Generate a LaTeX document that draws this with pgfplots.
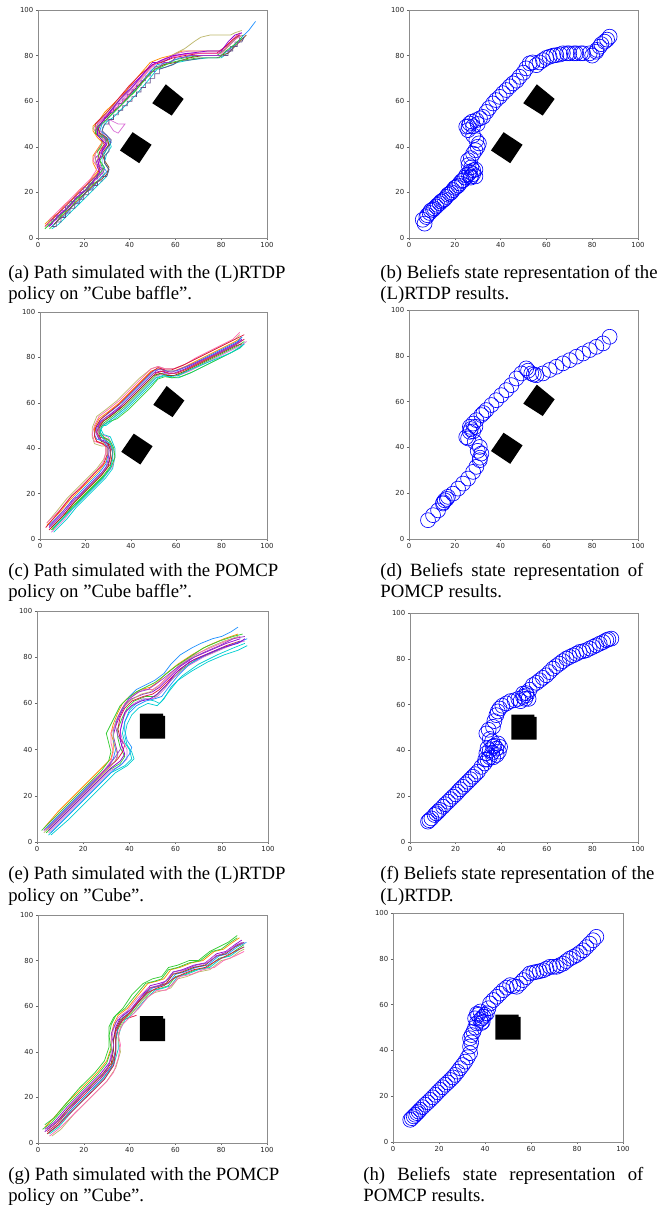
\documentclass[border=0pt]{standalone}
\usepackage{fontspec}
\setmainfont{Liberation Serif}
\newfontfamily\djv{DejaVu Sans}
\usepackage{pgfplots}
\pgfplotsset{compat=1.18}
\definecolor{c1}{RGB}{148,0,211}
\definecolor{c2}{RGB}{50,205,50}
\definecolor{c3}{RGB}{255,140,0}
\definecolor{c4}{RGB}{220,20,60}
\definecolor{c5}{RGB}{30,144,255}
\definecolor{c6}{RGB}{0,206,209}
\definecolor{c7}{RGB}{218,112,214}
\definecolor{c8}{RGB}{189,183,107}
\definecolor{c9}{RGB}{139,69,19}
\definecolor{c10}{RGB}{255,105,180}
\definecolor{c11}{RGB}{150,60,200}
\definecolor{c12}{RGB}{100,80,140}
\definecolor{bcirc}{RGB}{0,0,255}
\pgfplotsset{
  grid100/.style={scale only axis, anchor=south west,
    xmin=0,xmax=100,ymin=0,ymax=100,
    xtick={0,20,...,100}, ytick={0,20,...,100},
    tick pos=left, tick align=outside, major tick length=1.2pt,
    axis line style={black!45, line width=0.35pt},
    tick style={black!60, line width=0.3pt},
    tick label style={font=\djv\fontsize{3.8}{4}\selectfont, text=black!85},
    /pgf/number format/assume math mode=true,
    xticklabel style={inner sep=1.2pt}, yticklabel style={inner sep=1.2pt}},
  pth/.style={line width=0.4pt, no marks},
  obst/.style={fill=black, draw=none, no marks},
  circ/.style={only marks, mark=o, mark size=4.1pt, color=bcirc, mark options={line width=0.35pt}},
}
\newcommand{\baffle}{%
  \addplot[obst] coordinates {(55.8,67.4) (63.6,61) (58.4,53.7) (49.9,59.1)} --cycle;
  \addplot[obst] coordinates {(41.3,46.4) (49.6,40.9) (44.2,32.8) (35.8,38.4)} --cycle;}
\newcommand{\cube}{%
  \addplot[obst] coordinates {(44.5,44.7) (55.5,44.7) (55.5,54.6) (54.6,54.6) (54.6,55.6) (44.5,55.6)} --cycle;}
\newcommand{\capfont}{\fontsize{10.3}{12}\selectfont}
\begin{document}
\begin{tikzpicture}[x=0.55pt,y=0.55pt]
\useasboundingbox (0,0) rectangle (662,1207);

% (a)
\begin{axis}[grid100, at={(20.9pt,532.95pt)}, width=125.95pt, height=125.4pt]
\baffle
\addplot[pth,c1] coordinates {(4,5) (6,6) (7,8) (9,9) (10,11) (12,12) (13,14) (15,15) (16,17) (18,18) (19,20) (21,21) (22,23) (24,24) (25,26) (27,27) (28,29) (26,32) (25,35) (27,37) (29,40) (30,43) (28,45) (25,47) (26,50) (29,53) (31,55) (35,60) (40,66) (45,71) (50,77) (53,77) (56,78) (60,80) (65,81) (72,81) (79,81) (82,83) (85,86) (88,89)};
\addplot[pth,c2] coordinates {(5,4) (8,7) (11,11) (14,13) (17,17) (20,19) (23,23) (26,25) (29,28) (28,31) (27,34) (29,37) (31,41) (29,44) (26,46) (27,49) (30,52) (32,54) (37,59) (42,64) (47,70) (51,75) (55,76) (59,78) (64,79) (70,80) (78,80) (81,82) (84,85) (87,88) (90,89)};
\addplot[pth,c3] coordinates {(3,6) (6,9) (9,11) (12,15) (15,17) (18,21) (21,23) (24,27) (26,29) (24,33) (24,36) (26,39) (28,42) (26,44) (24,47) (24,49) (27,52) (29,55) (33,59) (38,64) (43,70) (49,77) (54,79) (58,80) (63,82) (70,82) (80,82) (83,85) (86,88) (88,90)};
\addplot[pth,c5] coordinates {(6,5) (9,8) (12,10) (15,14) (18,16) (21,20) (24,22) (27,26) (30,29) (28,32) (28,36) (30,39) (32,42) (30,45) (27,47) (28,50) (31,53) (34,56) (39,61) (44,67) (49,73) (52,76) (57,77) (62,79) (67,80) (75,80) (80,80) (84,83) (88,87) (92,91) (95,95)};
\addplot[pth,c8] coordinates {(4,7) (7,9) (10,12) (13,15) (16,18) (19,21) (22,24) (25,27) (27,30) (25,33) (25,37) (28,40) (30,42) (27,45) (24,48) (26,51) (28,53) (32,57) (37,62) (42,67) (47,72) (50,76) (55,78) (60,81) (64,83) (68,86) (71,88) (75,89) (80,89) (84,89) (86,90) (89,91)};
\addplot[pth,c7] coordinates {(5,6) (8,8) (11,12) (14,14) (17,18) (20,20) (23,24) (26,26) (28,29) (27,33) (26,36) (29,39) (31,43) (28,46) (26,48) (28,51) (31,52) (35,50) (38,50) (35,46) (33,47) (31,50) (30,53) (33,57) (38,62) (43,68) (48,74) (52,77) (57,79) (61,81) (66,82) (74,82) (79,82) (82,84) (86,88) (89,90)};
\addplot[pth,c6] coordinates {(6,4) (9,6) (12,9) (15,12) (18,15) (21,18) (24,21) (27,24) (30,27) (31,30) (29,33) (30,37) (32,40) (31,43) (28,45) (28,48) (30,51) (33,53) (38,58) (43,63) (48,69) (52,74) (56,75) (61,77) (66,78) (74,79) (80,79) (84,82) (87,86) (90,88)};
\addplot[pth,c4] coordinates {(3,5) (5,7) (8,10) (11,13) (14,16) (17,19) (20,22) (23,25) (26,28) (27,31) (26,34) (27,38) (29,41) (27,44) (25,46) (25,50) (28,53) (30,55) (35,61) (40,67) (45,72) (50,76) (54,77) (59,79) (64,80) (71,81) (78,81) (82,84) (85,87) (88,89)};
\addplot[pth,c9] coordinates {(7,6) (10,9) (13,12) (16,15) (19,18) (22,21) (25,24) (28,26) (30,28) (31,31) (29,34) (28,37) (31,41) (30,44) (27,46) (26,49) (29,52) (31,54) (36,58) (41,64) (46,69) (51,74) (55,76) (60,77) (66,79) (72,80) (79,80) (83,81) (86,84) (89,87) (91,89)};
\addplot[pth,c10] coordinates {(5,8) (8,11) (11,14) (14,17) (17,20) (20,23) (23,26) (25,29) (26,31) (24,34) (25,37) (27,40) (29,43) (27,45) (25,48) (27,51) (30,54) (33,56) (38,61) (43,67) (48,73) (52,77) (56,79) (62,80) (67,81) (74,81) (80,81) (83,84) (86,87) (89,89)};
\addplot[pth,c11] coordinates {(4,6) (6,6) (6,8) (8,8) (8,10) (10,10) (10,12) (12,12) (12,14) (14,14) (14,16) (16,16) (16,18) (18,18) (18,20) (20,20) (20,22) (22,22) (22,24) (24,24) (24,26) (26,26) (26,28) (28,28) (29,30) (27,31) (26,34) (28,36) (28,39) (30,41) (29,44) (26,45) (25,47) (27,50) (29,51) (29,53) (31,53) (31,55) (33,55) (33,57) (35,57) (35,59) (37,59) (37,61) (39,61) (39,63) (41,63) (41,65) (43,65) (43,67) (45,67) (45,69) (47,69) (47,71) (49,71) (49,73) (51,73) (51,75) (53,75) (55,77) (58,77) (60,79) (63,79) (66,80) (70,80) (75,80) (80,80) (82,82) (84,82) (84,84) (86,84) (86,86) (88,86) (88,88)};
\addplot[pth,c12] coordinates {(6,5) (8,5) (8,7) (10,7) (10,9) (12,9) (12,11) (14,11) (14,13) (16,13) (16,15) (18,15) (18,17) (20,17) (20,19) (22,19) (22,21) (24,21) (24,23) (26,23) (26,25) (28,25) (28,27) (30,27) (31,30) (29,33) (29,36) (31,38) (31,40) (32,43) (30,45) (28,47) (29,50) (31,50) (31,52) (33,52) (33,54) (35,54) (35,56) (37,56) (37,58) (39,58) (39,60) (41,60) (41,62) (43,62) (43,64) (45,64) (45,66) (47,66) (47,68) (49,68) (49,70) (51,70) (51,72) (53,72) (53,74) (56,75) (59,76) (62,78) (66,78) (72,79) (78,79) (81,80) (83,80) (83,82) (85,82) (85,84) (87,84) (87,86) (89,86) (90,88)};
\addplot[pth,c2] coordinates {(3,4) (7,8) (11,11) (15,16) (19,19) (23,24) (26,27) (29,31) (27,34) (26,38) (28,41) (28,44) (25,46) (26,49) (29,51) (33,55) (38,60) (43,65) (48,71) (51,74) (54,75) (58,77) (63,78) (70,79) (79,79) (82,82) (86,85) (89,88)};
\addplot[pth,c1] coordinates {(5,5) (9,10) (13,13) (17,18) (21,21) (25,26) (27,29) (26,31) (27,35) (28,38) (30,41) (28,43) (26,45) (26,48) (28,51) (32,56) (36,61) (41,66) (46,72) (50,76) (54,78) (59,80) (66,81) (74,82) (80,82) (83,86) (86,89) (89,90)};
\end{axis}

% (b)
\begin{axis}[grid100, at={(224.95pt,532.95pt)}, width=125.95pt, height=125.4pt]
\baffle
\addplot[circ] coordinates {(6.8,6.3) (7.6,9.2) (9,11) (10.5,12.4) (11.9,13.8) (13.4,15.2) (14.8,16.5) (16.3,18) (17.8,19.5) (19.2,21) (20.7,22.4) (22.1,23.9) (23.6,25.3) (25,27.5) (26.5,29) (28,29.7) (27.2,31) (28,28) (27,27) (25.8,34.1) (28,37) (30,40) (29.4,42.9) (25.8,47.3) (25,48.8) (26.5,50.2) (29.4,51.7) (32.3,53.1) (33.8,55.3) (36.7,59) (39.6,61.9) (42.5,64.9) (45.4,67.8) (48.3,70.7) (51.2,74.4) (52.7,76.6) (55.6,75.8) (58.5,78) (61.4,79.5) (64.3,80.2) (67.2,81) (70,81) (73,81) (76,81) (78.9,81) (81.8,81.7) (83.3,83.9) (85.4,86.1) (87.6,88.3)
(6,8) (8,10) (9.5,12) (11,13) (12.5,14.5) (14,16) (15.5,17) (17,19) (18.5,20) (20,22) (21.5,23) (23,25) (24.5,26.5) (26,28) (29,27) (29,30) (27,26.5) (26,32) (27,35) (29,38.5) (30.5,41.5) (28,45) (26,49) (27.5,51) (31,52.5) (30,50) (28,49) (35,57) (38,60.5) (41,63.5) (44,66.5) (47,69) (50,72.5) (54,77) (57,77) (60,79) (63,80) (66,80.5) (69,81) (72,81) (75,81) (80,80) (82,82.5) (84,85) (86.5,87)};
\end{axis}

% (c)
\begin{axis}[grid100, at={(22pt,367.4pt)}, width=124.85pt, height=124.85pt]
\baffle
\addplot[pth,c1] coordinates {(4,5) (10,11) (14,16) (16,18) (20,22) (27,29) (30,33) (31,37) (31,40) (29,43) (26,44) (25,46) (25,49) (27,52) (31,55) (36,59) (41,64) (46,69) (50,73) (53,74) (56,73) (59,73) (64,75) (70,78) (76,81) (82,84) (86,86) (89,88)};
\addplot[pth,c2] coordinates {(5,4) (11,10) (15,15) (17,17) (21,21) (28,28) (31,32) (32,37) (32,40) (30,44) (27,45) (26,47) (26,49) (28,51) (32,54) (37,58) (42,63) (47,68) (51,72) (54,73) (57,72) (60,72) (65,74) (71,77) (77,80) (83,83) (87,85) (90,87)};
\addplot[pth,c3] coordinates {(3,6) (9,12) (13,17) (15,19) (19,23) (26,30) (29,34) (30,38) (30,41) (28,42) (25,43) (24,45) (24,49) (26,53) (30,56) (35,60) (40,65) (45,70) (49,74) (52,75) (56,74) (59,74) (64,76) (70,79) (76,82) (82,85) (86,87) (89,89)};
\addplot[pth,c6] coordinates {(6,3) (12,9) (16,14) (18,16) (22,20) (29,27) (32,31) (33,36) (33,40) (31,45) (28,46) (27,48) (27,50) (29,50) (33,53) (38,57) (43,62) (48,67) (52,71) (55,72) (58,71) (61,71) (66,73) (72,76) (78,79) (84,82) (88,84) (90,86)};
\addplot[pth,c8] coordinates {(3,7) (8,13) (12,18) (14,20) (18,24) (25,31) (28,35) (29,38) (29,41) (27,41) (24,42) (23,45) (23,49) (25,54) (29,57) (34,61) (39,66) (44,71) (49,75) (52,76) (55,75) (59,75) (64,77) (70,80) (76,83) (82,86) (86,88) (88,90)};
\addplot[pth,c4] coordinates {(4,4) (10,10) (14,15) (16,17) (20,21) (27,28) (31,33) (32,38) (31,41) (29,44) (26,45) (25,47) (26,50) (28,52) (32,55) (37,59) (42,64) (47,69) (51,73) (54,74) (57,73) (60,73) (65,75) (71,78) (77,81) (83,84) (87,86) (90,88)};
\addplot[pth,c5] coordinates {(4,6) (10,12) (14,17) (16,19) (20,23) (26,29) (29,33) (30,37) (30,40) (28,43) (25,44) (24,46) (25,50) (27,53) (31,56) (36,60) (41,65) (46,70) (50,74) (53,75) (56,74) (60,74) (65,76) (71,79) (77,82) (83,85) (87,87) (89,89)};
\addplot[pth,c7] coordinates {(5,3) (11,9) (15,14) (17,16) (21,20) (28,27) (32,32) (33,37) (32,41) (30,45) (27,46) (26,48) (27,50) (29,51) (33,54) (38,58) (43,63) (48,68) (52,72) (55,73) (58,72) (61,72) (66,74) (72,77) (78,80) (84,83) (88,85) (91,87)};
\addplot[pth,c10] coordinates {(3,7) (9,13) (13,18) (15,20) (19,24) (25,30) (28,34) (29,38) (29,41) (27,42) (24,43) (23,46) (24,50) (26,54) (30,57) (35,61) (40,66) (45,71) (49,75) (52,76) (55,75) (59,75) (64,77) (69,80) (75,83) (81,86) (85,88) (88,91)};
\addplot[pth,c9] coordinates {(5,5) (11,11) (15,16) (17,18) (21,22) (27,28) (30,32) (31,36) (31,39) (30,42) (27,43) (26,46) (26,49) (28,52) (31,54) (36,58) (41,63) (46,68) (50,72) (53,73) (56,72) (59,72) (64,74) (70,77) (76,80) (82,83) (86,85) (89,86)};
\addplot[pth,c11] coordinates {(4,5.5) (9,11) (13,15.5) (15,18) (17,18.5) (21,23) (26,28) (29,31) (30,35) (30.5,39) (29.5,42) (27,43.5) (25.5,45) (25.5,48) (26,51) (29,53.5) (33,56) (38,61) (43,66) (48,71) (51,74) (53,75) (55,74) (58,73.5) (62,75) (68,77.5) (74,80) (80,82.5) (85,85) (89,87.5)};
\addplot[pth,c2] coordinates {(5.5,4) (10,9) (14,14) (17,16.5) (22,21.5) (28,27.5) (31.5,32) (33,36) (32.5,40) (31,43) (28,45) (26.5,47) (27,49.5) (30,51.5) (34,53) (39,57) (44,62) (49,67) (52,70.5) (55,71.5) (58,71) (62,71.5) (67,73.5) (73,76.5) (79,79.5) (85,82.5) (89,85)};
\addplot[pth,c4] coordinates {(2.5,5) (8,11.5) (12,16.5) (14,19) (18,22.5) (24,29) (28,33) (29.5,37) (29.5,40.5) (27.5,42) (25,43) (24,45.5) (24.5,49) (26.5,52.5) (30,55.5) (35,59.5) (40,64.5) (45,69.5) (49,73.5) (52,75.5) (55,74.5) (58,74.5) (63,76.5) (69,79.5) (75,82.5) (81,85.5) (86,88) (90,90)};
\addplot[pth,c6] coordinates {(6,5) (12,11) (16,15) (18,17) (23,22) (28,27) (31,31) (32,35) (32,39) (31,42) (28,44) (27,45.5) (26.5,48) (28.5,50.5) (32.5,53.5) (37.5,57.5) (42.5,62.5) (47.5,67.5) (51,71) (54,72) (57,71.5) (61,72) (66,74.5) (72,77) (78,79.5) (84,82) (88,84.5) (90,86)};
\end{axis}

% (d)
\begin{axis}[grid100, at={(224.95pt,367.4pt)}, width=125.95pt, height=125.95pt]
\baffle
\addplot[circ] coordinates {(8.3,8.2) (10.5,10.4) (12.7,12.5) (14.8,15.5) (15.6,16.9) (17,18.4) (19.2,19.8) (21.4,22) (23.6,24.2) (25.8,26.4) (28,29.3) (29.4,31.5) (30.9,34.4) (31.6,37.3) (30.9,40.2) (28.7,42.4) (25.8,43.9) (26.6,46.8) (26.6,49) (28,50.4) (29.4,51.9) (31.6,54.1) (33.8,56.3) (36,58.5) (38.1,60.6) (40.3,62.8) (42.5,65) (44.7,67.2) (46.9,70.1) (49.1,72.3) (51.2,74.5) (53.4,72.3) (55.6,71.5) (58.5,72.3) (61.4,73.8) (64.3,75.2) (67.2,76.7) (70.2,78.1) (73.1,79.6) (76,81) (78.9,82.5) (81.8,83.9) (84.7,85.4) (87.6,88.3)
(15,16) (16.5,17.5) (27,48) (28,47) (29,49) (25,44.5) (30,38.5) (31,35.5) (32.5,55) (52,73.5) (54.5,71.8)};
\end{axis}

% (e)
\begin{axis}[grid100, at={(20.35pt,200.75pt)}, width=127.05pt, height=127.05pt]
\cube
\addplot[pth,c1] coordinates {(3,5) (10,12) (20,22) (30,32) (34,35) (35,38) (34,42) (33,46) (34,50) (36,55) (38,59) (41,62) (46,64) (50,65) (53,67) (57,71) (62,76) (68,80) (75,83) (82,86) (88,88)};
\addplot[pth,c2] coordinates {(4,4) (11,11) (21,21) (31,31) (36,34) (38,37) (36,41) (35,45) (35,49) (37,54) (39,58) (42,61) (47,63) (51,63) (54,66) (58,70) (63,75) (69,79) (76,82) (83,85) (89,87)};
\addplot[pth,c3] coordinates {(3,6) (9,13) (19,23) (29,33) (32,36) (33,40) (33,44) (32,47) (33,51) (35,56) (37,60) (40,63) (45,66) (49,67) (52,69) (56,73) (61,77) (67,81) (74,85) (81,88) (87,90)};
\addplot[pth,c6] coordinates {(5,3) (12,10) (22,20) (32,30) (38,33) (41,36) (40,40) (38,43) (37,47) (38,52) (40,57) (43,60) (47,62) (51,61) (53,60) (55,62) (58,67) (63,72) (70,77) (78,81) (85,84) (90,86)};
\addplot[pth,c5] coordinates {(4,6) (10,12) (20,22) (30,32) (33,36) (34,40) (33,44) (33,48) (34,52) (36,56) (38,59) (40,63) (43,66) (47,68) (51,70) (55,73) (58,77) (62,81) (67,84) (71,86) (76,88) (80,89) (84,91) (87,93)};
\addplot[pth,c4] coordinates {(4,5) (11,12) (21,22) (31,32) (35,36) (37,39) (38,42) (36,45) (35,49) (36,54) (38,58) (41,61) (46,63) (50,64) (53,66) (57,70) (62,75) (68,79) (75,82) (82,85) (88,87)};
\addplot[pth,c7] coordinates {(5,4) (12,11) (22,21) (32,31) (36,33) (39,36) (39,40) (37,44) (36,48) (37,53) (39,57) (42,60) (46,62) (50,62) (52,63) (55,66) (59,71) (65,76) (72,80) (79,83) (86,86) (90,87)};
\addplot[pth,c8] coordinates {(3,4) (10,11) (20,21) (30,31) (33,34) (35,37) (34,41) (33,45) (33,49) (35,54) (37,58) (40,61) (45,64) (49,65) (52,67) (56,71) (61,76) (67,80) (74,84) (81,87) (87,89)};
\addplot[pth,c5] coordinates {(6,4) (13,11) (23,21) (33,31) (37,34) (40,38) (41,41) (39,44) (38,48) (38,52) (40,56) (43,59) (47,61) (51,62) (54,63) (57,67) (61,72) (66,77) (73,81) (80,84) (86,86) (91,88)};
\addplot[pth,c10] coordinates {(4,7) (10,13) (19,22) (29,31) (32,35) (33,39) (32,43) (32,47) (34,51) (36,56) (38,60) (41,63) (46,66) (50,66) (53,68) (57,72) (62,77) (68,81) (75,84) (82,87) (88,89)};
\addplot[pth,c11] coordinates {(5,6) (12,13) (22,23) (31,33) (34,37) (36,40) (37,43) (35,46) (34,50) (35,54) (37,58) (40,62) (44,65) (48,66) (51,68) (55,71) (60,75) (66,79) (72,82) (79,85) (85,88) (90,89)};
\addplot[pth,c6] coordinates {(6,3) (14,10) (24,20) (34,30) (39,33) (42,36) (41,39) (39,42) (38,46) (39,51) (41,55) (44,58) (48,60) (52,59) (54,61) (57,65) (61,70) (67,74) (74,78) (81,81) (87,83) (91,85)};
\addplot[pth,c2] coordinates {(2,5) (9,12) (18,21) (28,31) (31,35) (32,39) (31,43) (30,47) (32,51) (34,55) (36,59) (39,62) (43,65) (47,67) (51,69) (55,72) (60,76) (66,80) (72,84) (79,87) (85,89) (89,90)};
\addplot[pth,c1] coordinates {(5,5) (12,12) (22,22) (32,32) (36,35) (38,38) (37,41) (36,44) (36,48) (37,52) (38,56) (41,59) (45,61) (49,62) (52,64) (56,68) (60,73) (66,78) (73,81) (80,84) (87,86) (90,88)};
\end{axis}

% (f)
\begin{axis}[grid100, at={(225.5pt,200.75pt)}, width=125.4pt, height=125.95pt]
\cube
\addplot[circ] coordinates {(7.9,8.9) (9.4,10.3) (10.8,11.8) (12.3,13.2) (14.5,15.4) (16.7,17.6) (18.9,19.8) (21,21.9) (23.2,24.1) (25.4,26.3) (27.6,28.5) (29.8,30.7) (31.3,32.8) (32.7,34.3) (34,36) (33.5,38.7) (35,40.1) (36.4,41.6) (37.9,40.8) (38.6,43) (36,39) (38,38) (35,37) (37,42) (33.5,47.4) (36.4,50.3) (37.9,55.4) (39.3,58.3) (42.3,60.5) (45.9,61.9) (49.6,63.4) (51.2,64.1) (49.6,64.8) (50.5,62.5) (53.9,68.5) (56.9,70.6) (59.8,72.8) (62.7,75.7) (65.6,77.9) (68.6,80.1) (71.5,81.5) (74.4,83) (77.3,83.7) (80.3,85.2) (83.2,86.6) (86.1,88.1) (88.3,88.8)
(8.5,9.5) (11.5,12.5) (13,14) (15.5,16.5) (17.8,18.7) (20,20.8) (22,23) (24.3,25.2) (26.5,27.4) (28.7,29.6) (36,44) (34,41) (39,39.5) (36.5,37) (33,36) (39.5,41.5) (35,45) (34.5,49) (37,52.8) (38.5,57) (40.5,59.5) (44,61.5) (47.5,62.5) (52,62.5) (51,65) (48.5,61.5) (52.5,66.5) (55.5,69.5) (58.3,71.7) (61.2,74.2) (64.1,76.8) (67,79) (70,80.8) (73,82.2) (75.9,83.3) (78.8,84.5) (81.7,85.9) (84.7,87.3) (87,88.5)};
\end{axis}

% (g)
\begin{axis}[grid100, at={(20.9pt,35.2pt)}, width=125.95pt, height=125.4pt]
\cube
\addplot[pth,c1] coordinates {(3,6) (7,9) (13,16) (20,23) (23,26) (27,30) (31,35) (33,41) (33,46) (34,51) (36,55) (40,58) (44,63) (49,69) (53,70) (56,71) (59,75) (63,76) (68,78) (73,79) (78,83) (82,84) (86,87) (89,89)};
\addplot[pth,c2] coordinates {(4,4) (8,7) (14,14) (21,21) (24,24) (28,28) (32,33) (34,40) (34,45) (35,50) (37,54) (41,57) (45,62) (50,67) (54,68) (57,69) (60,73) (64,74) (69,76) (74,77) (79,81) (83,82) (87,85) (90,87)};
\addplot[pth,c3] coordinates {(3,7) (6,10) (12,17) (19,24) (22,27) (26,31) (30,36) (32,42) (32,47) (33,52) (35,56) (39,59) (43,64) (48,70) (52,71) (55,72) (58,76) (62,77) (67,79) (72,80) (77,84) (81,85) (85,88) (88,90)};
\addplot[pth,c4] coordinates {(4,5) (8,8) (14,15) (21,22) (24,25) (28,29) (32,34) (34,41) (34,46) (35,51) (37,54) (40,55) (43,56)};
\addplot[pth,c6] coordinates {(5,4) (9,7) (15,14) (22,21) (25,24) (29,28) (33,34) (35,41) (35,46) (36,50) (38,54) (42,57) (46,62) (51,67) (55,68) (58,69) (61,73) (65,74) (70,76) (75,77) (80,81) (84,82) (88,85) (90,86)};
\addplot[pth,c7] coordinates {(3,5) (7,8) (13,15) (20,22) (23,25) (27,29) (31,34) (32,40) (32,45) (33,50) (35,55) (39,58) (43,63) (48,68) (52,69) (55,70) (58,74) (62,75) (67,77) (72,78) (77,82) (81,83) (85,86) (89,88)};
\addplot[pth,c2] coordinates {(2,6) (6,9) (12,16) (19,23) (22,26) (26,30) (30,35) (32,41) (31,47) (32,52) (34,56) (38,59) (42,64) (47,70) (51,71) (54,72) (57,76) (61,77) (66,79) (71,80) (76,84) (80,85) (84,88) (87,90)};
\addplot[pth,c5] coordinates {(5,5) (9,8) (15,15) (22,22) (25,25) (29,29) (33,35) (34,42) (34,46) (35,51) (37,55) (41,58) (45,63) (50,68) (54,69) (57,70) (60,74) (64,75) (69,77) (74,78) (79,82) (83,83) (87,86) (91,88)};
\addplot[pth,c9] coordinates {(4,6) (8,9) (14,16) (21,23) (24,26) (28,30) (32,35) (33,41) (33,45) (34,50) (36,54) (40,57) (44,62) (49,68) (53,69) (56,70) (59,74) (63,75) (68,77) (73,78) (78,82) (82,83) (86,86) (90,88)};
\addplot[pth,c8] coordinates {(6,3) (10,6) (16,13) (23,20) (26,23) (30,27) (34,33) (36,40) (35,46) (36,51) (38,55) (42,58) (46,63) (51,66) (55,67) (58,68) (61,72) (65,73) (70,75) (75,76) (80,80) (84,81) (88,84) (90,85)};
\addplot[pth,c11] coordinates {(3,5) (8,9) (14,15) (20,22) (24,25) (27,28) (30,32) (32,37) (33,43) (32,48) (34,53) (37,56) (41,59) (45,64) (49,68) (53,69) (57,72) (59,75) (64,76) (69,78) (74,79) (78,82) (83,84) (87,87) (90,88)};
\addplot[pth,c10] coordinates {(5,3) (10,7) (16,13) (22,19) (26,23) (30,27) (33,31) (35,37) (36,43) (35,48) (37,52) (40,55) (44,59) (48,64) (52,67) (56,67) (59,70) (62,73) (67,74) (72,76) (77,77) (81,80) (86,82) (90,84)};
\addplot[pth,c2] coordinates {(3,8) (7,11) (12,17) (18,24) (22,28) (25,31) (29,36) (31,42) (31,46) (31,51) (33,55) (37,59) (41,65) (46,70) (50,72) (54,73) (57,77) (61,78) (66,80) (70,80) (75,84) (79,86) (83,88) (87,91)};
\addplot[pth,c4] coordinates {(4,4) (9,8) (15,14) (21,20) (25,24) (29,28) (33,34) (34,40) (34,44) (34,49) (36,53) (39,56) (43,61) (48,66) (52,68) (55,69) (59,72) (63,74) (68,76) (73,77) (78,80) (82,82) (86,84) (90,86)};
\end{axis}

% (h)
\begin{axis}[grid100, at={(216.15pt,35.75pt)}, width=126.5pt, height=125.95pt]
\cube
\addplot[circ] coordinates {(7.5,9.7) (9,11.2) (10.4,12.6) (11.8,14.1) (14,16.3) (16.2,18.4) (18.4,20.6) (20.5,22.8) (22.7,25) (24.9,27.1) (27,29.3) (29.2,32.2) (31.4,35.1) (33.5,38.8) (33.5,41.7) (33.5,45.3) (35,48.2) (36.4,51.8) (37.9,53.3) (39.3,54.7) (40.8,56.2) (35.7,54) (38.5,52) (37,55.5) (42.2,60.5) (45.1,63.4) (48,66.3) (50.9,68.5) (53.8,67.8) (56.6,70.7) (59.5,73.6) (62.4,74.3) (65.3,75) (68.2,76.5) (71.1,76.5) (74,77.9) (76.9,80.1) (79.8,81.6) (82.7,83.7) (85.5,86.6) (88.4,89.6)
(8.2,10.4) (9.7,11.9) (11.1,13.3) (12.9,15.2) (15.1,17.3) (17.3,19.5) (19.4,21.7) (21.6,23.9) (23.8,26) (26,28.2) (28.1,30.7) (30.3,33.6) (32.5,37) (34,43.5) (34.2,46.7) (35.7,50) (38.6,54) (40,55.5) (39,52.5) (36.5,56) (38,57) (41.5,58.4) (43.6,62) (46.5,64.8) (49.4,67.4) (52.3,68.1) (55.2,69.2) (58,72) (61,74) (63.8,74.6) (66.7,75.7) (69.6,76.5) (72.5,77.2) (75.4,79) (78.3,80.8) (81.2,82.6) (84.1,85.1) (87,88.1)};
\end{axis}

% captions
\begin{scope}[every node/.style={anchor=base west, inner sep=0pt, font=\capfont}]
\node at (8,928) {(a) Path simulated with the (L)RTDP};
\node at (8,907) {policy on ''Cube baffle''.};
\node at (380,928) {(b) Beliefs state representation of the};
\node at (380,907) {(L)RTDP results.};
\node at (8,630) {(c) Path simulated with the POMCP};
\node at (8,609) {policy on ''Cube baffle''.};
\node at (380,630) {\hbox to 144.65pt{(d) Beliefs state representation of}};
\node at (380,609) {POMCP results.};
\node at (8,327) {(e) Path simulated with the (L)RTDP};
\node at (8,305) {policy on ''Cube''.};
\node at (380,327) {(f) Beliefs state representation of the};
\node at (380,305) {(L)RTDP.};
\node at (8,26) {(g) Path simulated with the POMCP};
\node at (8,5) {policy on ''Cube''.};
\node at (363,26) {\hbox to 154pt{(h) Beliefs state representation of}};
\node at (363,5) {POMCP results.};
\end{scope}
\end{tikzpicture}
\end{document}
